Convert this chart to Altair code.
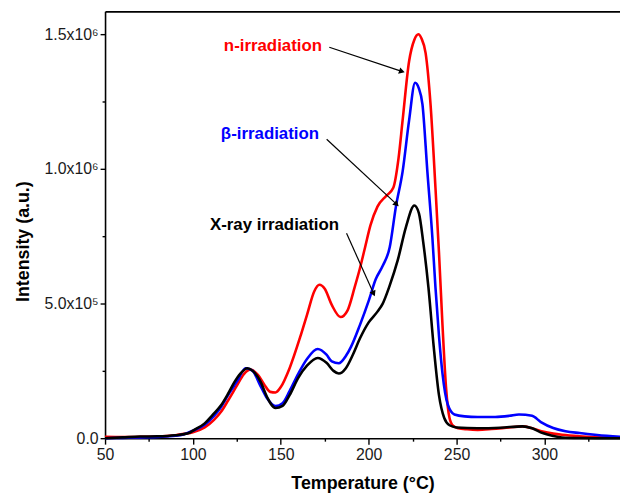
import altair as alt
import pandas as pd

# ---------------- data ----------------
red_T = [50, 60, 70, 80, 90, 95, 100, 106.7, 112, 116, 120, 125, 129, 133, 137, 141, 144, 147, 150, 155,
         161, 165, 169, 172, 175, 179, 184, 188, 192, 195, 198, 201, 205, 210, 214, 217, 219.3, 223, 226,
         228.3, 230, 232.4, 235.2, 238, 240, 242, 244, 246, 248, 251, 256, 262, 270, 280, 287.5, 293, 299,
         305, 310, 320, 330, 343]
red_I = [5e3, 4e3, 5e3, 6e3, 1.1e4, 1.6e4, 2.2e4, 4.0e4, 6.8e4, 9.8e4, 1.4e5, 1.95e5, 2.38e5, 2.55e5, 2.35e5,
         1.95e5, 1.72e5, 1.70e5, 1.9e5, 2.6e5, 3.75e5, 4.6e5, 5.45e5, 5.7e5, 5.55e5, 4.95e5, 4.5e5, 4.75e5,
         5.6e5, 6.3e5, 7.1e5, 7.9e5, 8.6e5, 9.0e5, 9.3e5, 1.04e6, 1.18e6, 1.40e6, 1.48e6, 1.50e6, 1.485e6,
         1.43e6, 1.24e6, 9.3e5, 6.9e5, 4.2e5, 1.9e5, 7.5e4, 4.6e4, 3.7e4, 3.3e4, 3.1e4, 3.4e4, 4.0e4, 4.4e4,
         3.7e4, 2.5e4, 1.7e4, 1.25e4, 7e3, 4e3, 2e3]

blue_T = [50, 60, 70, 80, 90, 95, 100, 106.7, 112, 116, 120, 125, 130, 134, 138, 142, 147, 151, 155, 160,
          165, 171, 176, 179, 183, 187, 190, 195, 200, 204, 208, 212, 215.5, 219.3, 223, 226.4, 228.5, 230.6,
          233.4, 236.2, 238, 240, 242, 245, 248.8, 254.6, 262, 272, 280, 285.5, 293, 298, 305, 312, 320, 330,
          343]
blue_I = [0, 1e3, 3e3, 5e3, 9e3, 1.5e4, 2.8e4, 5.0e4, 8.3e4, 1.16e5, 1.6e5, 2.1e5, 2.6e5, 2.5e5, 2.0e5,
          1.5e5, 1.19e5, 1.3e5, 1.75e5, 2.4e5, 2.95e5, 3.31e5, 3.1e5, 2.85e5, 2.78e5, 3.05e5, 3.4e5, 4.2e5,
          5.1e5, 5.9e5, 6.4e5, 7.1e5, 8.6e5, 9.9e5, 1.18e6, 1.32e6, 1.30e6, 1.24e6, 9.9e5, 7.5e5, 5.6e5,
          3.8e5, 2.4e5, 1.25e5, 8.8e4, 8.1e4, 7.9e4, 7.9e4, 8.3e4, 8.8e4, 8.3e4, 6.0e4, 3.8e4, 2.6e4, 1.9e4,
          1.2e4, 5e3]

black_T = [50, 60, 70, 80, 90, 97.3, 101, 106.7, 111, 116, 120, 123.6, 127, 131, 134, 138.6, 142, 147, 151,
           155, 160, 165, 171, 176, 180, 183, 187, 191, 195, 200, 205, 208, 211.8, 216.5, 221.2, 226, 228.6,
           231, 234, 237, 240, 243, 246, 250, 262, 275, 287.5, 293, 299, 305, 310, 320, 330, 343]
black_I = [0, 3e3, 6e3, 7e3, 1.1e4, 1.8e4, 3.2e4, 5.5e4, 8.5e4, 1.22e5, 1.65e5, 2.08e5, 2.4e5, 2.6e5, 2.5e5,
           2.08e5, 1.55e5, 1.12e5, 1.2e5, 1.6e5, 2.25e5, 2.7e5, 2.98e5, 2.8e5, 2.5e5, 2.4e5, 2.6e5, 3.1e5,
           3.7e5, 4.3e5, 4.7e5, 5.0e5, 5.64e5, 6.6e5, 7.84e5, 8.64e5, 8.35e5, 7.3e5, 5.6e5, 3.4e5, 1.6e5,
           7.5e4, 4.8e4, 4.0e4, 3.7e4, 3.9e4, 4.4e4, 3.7e4, 1.9e4, 8e3, 2.5e3, 5e2, 0, 0]

x_major = [50, 100, 150, 200, 250, 300]
x_minor = [75, 125, 175, 225, 275, 325]
y_major = [0, 500000, 1000000, 1500000]
y_major_labels = ["0.0", "5.0x10\u2075", "1.0x10\u2076", "1.5x10\u2076"]
y_minor = [250000, 750000, 1250000]

x_domain = [50, 343]
y_domain = [0, 1585000]

ann_text = ["n-irradiation", "\u03b2-irradiation", "X-ray irradiation"]
ann_color = ["#ff0000", "#0000ff", "#000000"]
ann_T = [117.6, 115.9, 109.7]
ann_I = [1.456e6, 1.129e6, 0.790e6]
arrow_T1 = [177.6, 176.1, 187.4]
arrow_I1 = [1.452e6, 1.110e6, 0.761e6]
arrow_T2 = [218.4, 215.5, 202.6]
arrow_I2 = [1.363e6, 0.871e6, 0.540e6]
arrow_angle = [108.4, 132.9, 155.8]

# ---------------- build ----------------
FONT = "Liberation Sans"
xs = alt.Scale(domain=x_domain, nice=False, zero=False)
ys = alt.Scale(domain=y_domain, nice=False, zero=False)

label_expr = " : ".join(
    f"datum.value == {v} ? '{l}'" for v, l in zip(y_major, y_major_labels)
) + " : ''"

def series_df(T, I):
    return pd.DataFrame({"T": T, "I": I})

major_x_axis = alt.Axis(values=x_major, title="Temperature (\u00b0C)", tickSize=6, labelPadding=3,
                        titlePadding=12, grid=False, labelFlush=False)
major_y_axis = alt.Axis(values=y_major, labelExpr=label_expr, title="Intensity (a.u.)", tickSize=5,
                        labelPadding=2, titlePadding=12, grid=False, labelFlush=False, titleY=232)

red = alt.Chart(series_df(red_T, red_I)).mark_line(
    color="#ff0000", strokeWidth=2.6, interpolate="monotone").encode(
    x=alt.X("T:Q", scale=xs, axis=major_x_axis),
    y=alt.Y("I:Q", scale=ys, axis=major_y_axis))

blue = alt.Chart(series_df(blue_T, blue_I)).mark_line(
    color="#0000ff", strokeWidth=2.6, interpolate="monotone").encode(
    x=alt.X("T:Q", scale=xs, axis=None),
    y=alt.Y("I:Q", scale=ys, axis=None))

black = alt.Chart(series_df(black_T, black_I)).mark_line(
    color="#000000", strokeWidth=2.6, interpolate="monotone").encode(
    x=alt.X("T:Q", scale=xs, axis=None),
    y=alt.Y("I:Q", scale=ys, axis=None))

minor = alt.Chart(pd.DataFrame({"T": x_domain, "I": y_domain})).mark_point(opacity=0).encode(
    x=alt.X("T:Q", scale=xs, axis=alt.Axis(values=x_minor, orient="bottom", labels=False, tickSize=3,
                                            title=None, grid=False, domain=False)),
    y=alt.Y("I:Q", scale=ys, axis=alt.Axis(values=y_minor, orient="left", labels=False, tickSize=3,
                                            title=None, grid=False, domain=False)))

top = alt.Chart(pd.DataFrame({"T": x_domain, "I": y_domain})).mark_point(opacity=0).encode(
    x=alt.X("T:Q", scale=xs, axis=alt.Axis(orient="top", labels=False, ticks=False, title=None,
                                            grid=False)),
    y=alt.Y("I:Q", scale=ys, axis=None))

ann_df = pd.DataFrame({"text": ann_text, "color": ann_color, "T": ann_T, "I": ann_I,
                       "T1": arrow_T1, "I1": arrow_I1, "T2": arrow_T2, "I2": arrow_I2,
                       "angle": arrow_angle})

texts = alt.Chart(ann_df).mark_text(font=FONT, fontSize=17, fontWeight="bold", align="left",
                                    baseline="middle").encode(
    x=alt.X("T:Q", scale=xs, axis=None),
    y=alt.Y("I:Q", scale=ys, axis=None),
    text="text:N",
    color=alt.Color("color:N", scale=None))

arrows = alt.Chart(ann_df).mark_rule(color="black", strokeWidth=1.2).encode(
    x=alt.X("T1:Q", scale=xs, axis=None),
    y=alt.Y("I1:Q", scale=ys, axis=None),
    x2="T2:Q", y2="I2:Q")

heads = alt.Chart(ann_df).mark_point(shape="triangle", filled=True, color="black", size=45,
                                     opacity=1).encode(
    x=alt.X("T2:Q", scale=xs, axis=None),
    y=alt.Y("I2:Q", scale=ys, axis=None),
    angle=alt.Angle("angle:Q", scale=None))

chart = alt.layer(red, blue, black, minor, top, arrows, heads, texts).resolve_axis(
    x="independent", y="independent"
).properties(
    width=520, height=431,
    autosize=alt.AutoSizeParams(type="none"),
    padding={"left": 98, "top": 1, "right": 0, "bottom": 60},
).configure_view(stroke=None).configure_axis(
    labelFont=FONT, titleFont=FONT, labelFontSize=16, titleFontSize=18, titleFontWeight="bold",
    labelColor="#1a1a1a", titleColor="#000000", domainColor="#000000", domainWidth=1.6,
    tickColor="#000000", tickWidth=1.4,
)

chart.save("out.html", embed_options={"renderer": "svg", "actions": False})
